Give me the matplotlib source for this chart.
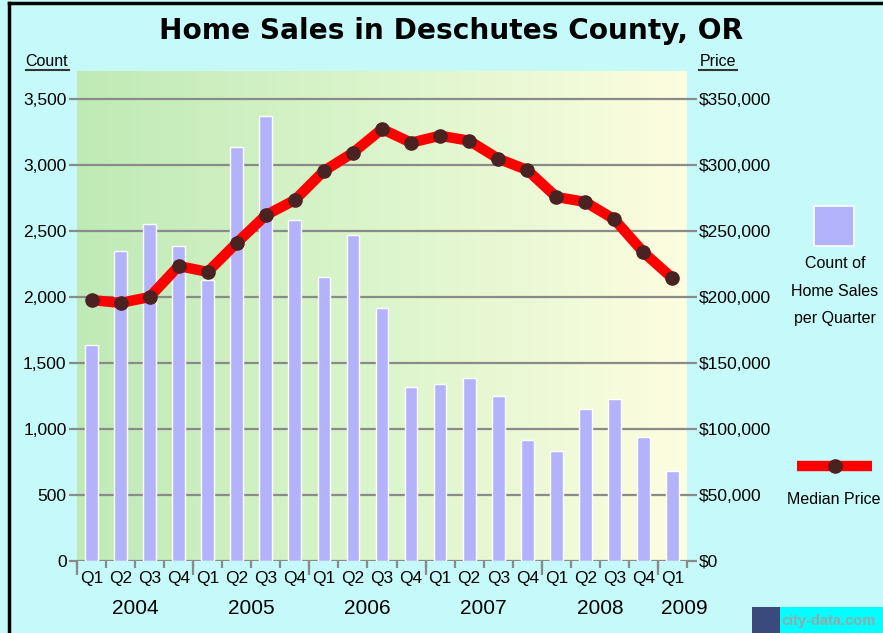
import numpy as np
import matplotlib
matplotlib.use("Agg")
import matplotlib.pyplot as plt
from matplotlib.lines import Line2D
from matplotlib.patches import Rectangle
from matplotlib.colors import LinearSegmentedColormap

# ── Data ──────────────────────────────────────────────────────────
quarters = ["Q1", "Q2", "Q3", "Q4"] * 5 + ["Q1"]
years = ["2004", "2005", "2006", "2007", "2008", "2009"]
sales_count = [1640, 2350, 2550, 2390, 2130, 3140, 3370, 2580, 2150, 2470,
               1920, 1320, 1340, 1390, 1250, 920, 830, 1150, 1225, 940, 680]
median_price = [197700, 195500, 200000, 223500, 219000, 241000, 262000, 273500,
                295500, 309300, 327300, 316900, 322200, 318400, 304800, 296200,
                275800, 272000, 258800, 233900, 214200]
count_ticks = [0, 500, 1000, 1500, 2000, 2500, 3000, 3500]
price_ticks = [0, 50000, 100000, 150000, 200000, 250000, 300000, 350000]

BG = "#c6fafa"
BAR = "#b3b3fb"
GRID = "#8a8a8a"
TICKFONT = "Liberation Sans"

plt.rcParams["font.family"] = TICKFONT

fig = plt.figure(figsize=(8.83, 6.33), dpi=100, facecolor=BG)
ax = fig.add_axes([77 / 883, 72 / 633, 610 / 883, 490 / 633])
ax.set_facecolor(BG)

n = len(sales_count)
x = np.arange(n)
ymax = 3500 * 490 / 462
ax.set_xlim(-0.5, n - 0.5)
ax.set_ylim(0, ymax)

# gradient background (green -> pale yellow)
grad = LinearSegmentedColormap.from_list("bg", ["#bfeab6", "#dcf5cc", "#fdfde0"])
ax.imshow(np.linspace(0, 1, 256).reshape(1, -1), cmap=grad, aspect="auto",
          extent=[-0.5, n - 0.5, 0, ymax], zorder=0)

for t in count_ticks:
    ax.axhline(t, color=GRID, lw=1.6, zorder=1)

ax.bar(x, sales_count, width=0.44, color=BAR, edgecolor="white", linewidth=1, zorder=2)

for s in ax.spines.values():
    s.set_visible(False)

ax.set_yticks(count_ticks)
ax.set_yticklabels([f"{v:,}" for v in count_ticks])
ax.tick_params(axis="y", length=6, width=1.6, color=GRID, pad=1.5, labelsize=12.5)

# quarter labels + boundary ticks
ax.set_xticks(x)
ax.set_xticklabels(quarters)
ax.tick_params(axis="x", length=0, pad=7, labelsize=12.5)
ax.set_xticks(np.arange(n + 1) - 0.5, minor=True)
ax.tick_params(axis="x", which="minor", length=5, width=1.6, color=GRID)
sec = ax.secondary_xaxis("bottom")
sec.set_xticks(np.arange(0, n + 1, 4) - 0.5)
sec.set_xticklabels([])
sec.tick_params(length=10, width=1.6, color=GRID)
sec.spines["bottom"].set_visible(False)

# year labels
for i, yr in enumerate(years):
    qs = x[i * 4:(i + 1) * 4]
    cx = qs.mean() if len(qs) == 4 else qs[0] + 0.4
    ax.annotate(yr, xy=(cx, 0), xycoords=("data", "axes fraction"),
                xytext=(0, -34), textcoords="offset points",
                ha="center", va="center", fontsize=15)

# price line on right axis
ax2 = ax.twinx()
ax2.set_ylim(0, ymax * 100)
for s in ax2.spines.values():
    s.set_visible(False)
ax2.plot(x, median_price, color="red", lw=7.5, solid_capstyle="round",
         marker="o", markersize=9.5, markerfacecolor="#4a2222",
         markeredgecolor="#4a2222", zorder=5)
ax2.set_yticks(price_ticks)
ax2.set_yticklabels([f"${v:,}" for v in price_ticks])
ax2.tick_params(axis="y", length=7, width=1.6, color=GRID, pad=1.5, labelsize=12.5)

# title and axis captions
fig.text(451 / 883, 1 - 31 / 633, "Home Sales in Deschutes County, OR",
         ha="center", va="center", fontsize=20.2, fontweight="bold",
         family="DejaVu Sans")
fig.text(47 / 883, 1 - 61 / 633, "Count", ha="center", va="center", fontsize=11.5)
fig.add_artist(Line2D([26 / 883, 69 / 883], [1 - 70 / 633] * 2, color="#333333", lw=1.5))
fig.text(718 / 883, 1 - 61 / 633, "Price", ha="center", va="center", fontsize=11.5)
fig.add_artist(Line2D([699 / 883, 737 / 883], [1 - 70 / 633] * 2, color="#333333", lw=1.5))

# legend (drawn by hand like the original)
fig.add_artist(Rectangle((814 / 883, 1 - 246 / 633), 40 / 883, 40 / 633,
                         facecolor=BAR, edgecolor="white", lw=1.2))
for txt, yy in zip(["Count of", "Home Sales", "per Quarter"], [264, 292, 319]):
    fig.text(835 / 883, 1 - yy / 633, txt, ha="center", va="center", fontsize=11.5)
fig.add_artist(Line2D([797 / 883, 872 / 883], [1 - 466 / 633] * 2, color="red",
                      lw=7.5, solid_capstyle="butt"))
fig.add_artist(Line2D([835 / 883], [1 - 466 / 633], marker="o", markersize=9.5,
                      color="#4a2222", lw=0))
fig.text(834 / 883, 1 - 500 / 633, "Median Price", ha="center", va="center", fontsize=11.5)

# watermark
fig.add_artist(Rectangle((752 / 883, 0), 28 / 883, 26 / 633, facecolor="#3a4a7a", lw=0))
fig.add_artist(Rectangle((780 / 883, 0), 103 / 883, 26 / 633, facecolor="#00ffff", lw=0))
fig.text(781 / 883, 12 / 633, "city-data.com", ha="left", va="center",
         fontsize=10.5, color="#98a8a8", fontweight="bold")

# outer frame (left and top edges)
fig.add_artist(Line2D([9 / 883, 9 / 883], [0, 1 - 3 / 633], color="black", lw=2.5))
fig.add_artist(Line2D([9 / 883, 1], [1 - 3 / 633] * 2, color="black", lw=2.5))

fig.savefig("out.png", dpi=100, facecolor=BG)
